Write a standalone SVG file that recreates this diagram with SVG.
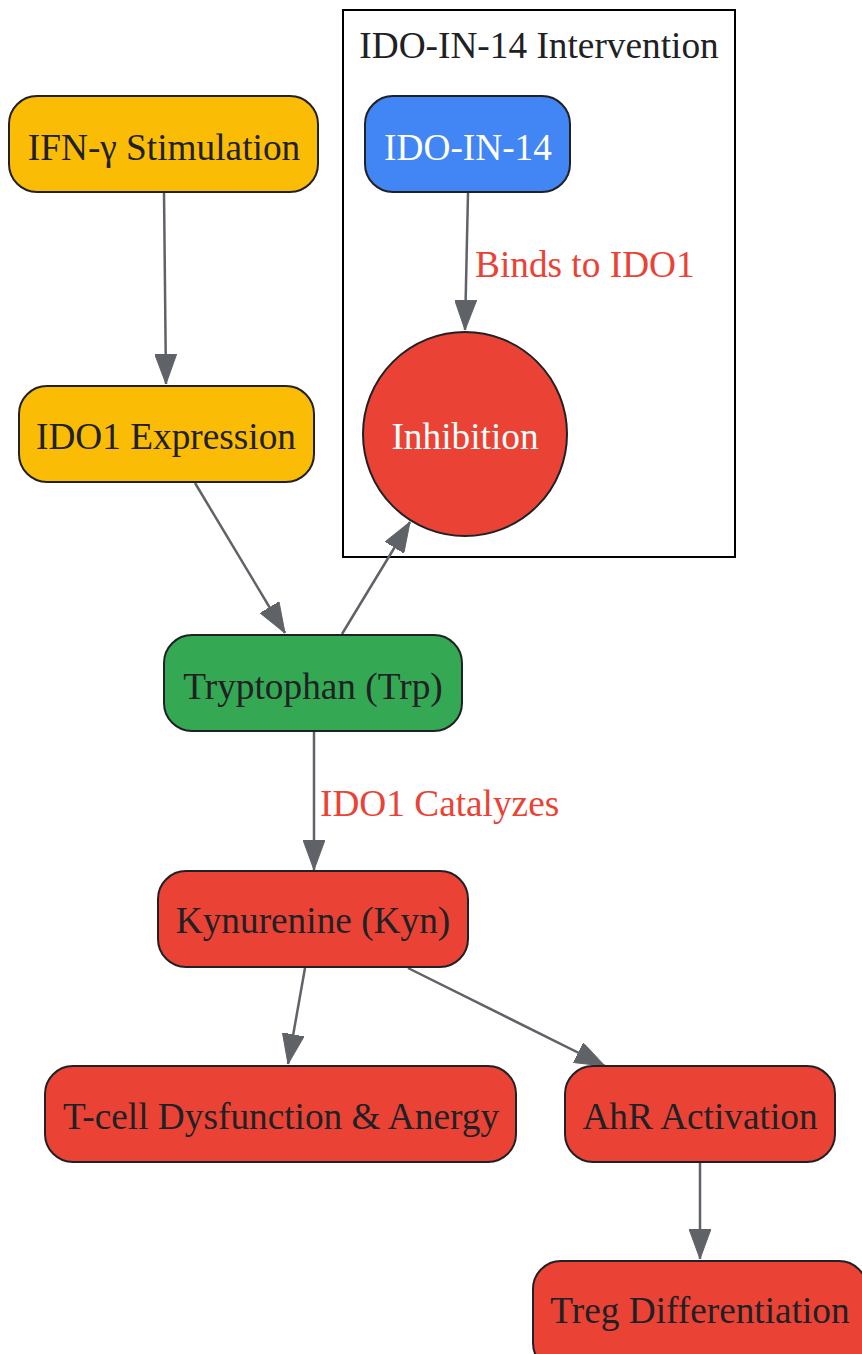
<svg xmlns="http://www.w3.org/2000/svg" width="862" height="1354" viewBox="0 0 862 1354">
<defs>
<marker id="ah" viewBox="0 0 30 22" refX="30" refY="11" markerWidth="30" markerHeight="22" markerUnits="userSpaceOnUse" orient="auto">
<path d="M0,0 L30,11 L0,22 Z" fill="#5F6368" stroke="#5F6368" stroke-width="1"/>
</marker>
<style>
.n{stroke:#202124;stroke-width:2}
.t{font-family:"Liberation Serif",serif;font-size:37.3px;text-anchor:middle;dominant-baseline:central;fill:#202124}
.w{fill:#ffffff}
.e{stroke:#5F6368;stroke-width:2.5;fill:none;marker-end:url(#ah)}
.l{font-family:"Liberation Serif",serif;font-size:37.3px;fill:#EA4335}
</style>
</defs>
<rect width="862" height="1354" fill="#ffffff"/>
<g id="cluster">
<rect x="343" y="10" width="392" height="547" fill="#ffffff" stroke="#000000" stroke-width="2"/>
<text class="t" x="539" y="45">IDO-IN-14 Intervention</text>
</g>
<g id="connectors">
<line class="e" x1="164" y1="192" x2="166" y2="384"/>
<line class="e" x1="195" y1="483" x2="285" y2="633"/>
<line class="e" x1="342" y1="634" x2="410" y2="522"/>
<line class="e" x1="468" y1="193" x2="465" y2="330"/>
<text class="l" x="475" y="277">Binds to IDO1</text>
<line class="e" x1="314" y1="732" x2="314" y2="870"/>
<text class="l" x="320" y="816">IDO1 Catalyzes</text>
<line class="e" x1="305" y1="968" x2="288" y2="1064"/>
<line class="e" x1="408" y1="968" x2="605" y2="1066"/>
<line class="e" x1="700" y1="1163" x2="700" y2="1259"/>
</g>
<g id="ifn">
<rect class="n" x="9" y="96" width="309" height="96" rx="28" fill="#FBBC05"/>
<text class="t" x="164" y="147">IFN-γ Stimulation</text>
</g>
<g id="ido1">
<rect class="n" x="19" y="386" width="295" height="96" rx="28" fill="#FBBC05"/>
<text class="t" x="166" y="436">IDO1 Expression</text>
</g>
<g id="trp">
<rect class="n" x="164" y="635" width="298" height="96" rx="28" fill="#34A853"/>
<text class="t" x="313" y="686">Tryptophan (Trp)</text>
</g>
<g id="kyn">
<rect class="n" x="158" y="871" width="310" height="96" rx="28" fill="#EA4335"/>
<text class="t" x="313" y="920">Kynurenine (Kyn)</text>
</g>
<g id="tcell">
<rect class="n" x="45" y="1066" width="471" height="96" rx="28" fill="#EA4335"/>
<text class="t" x="281" y="1116">T-cell Dysfunction &amp; Anergy</text>
</g>
<g id="ahr">
<rect class="n" x="565" y="1066" width="270" height="96" rx="28" fill="#EA4335"/>
<text class="t" x="700" y="1116">AhR Activation</text>
</g>
<g id="treg">
<rect class="n" x="533" y="1261" width="334" height="110" rx="28" fill="#EA4335"/>
<text class="t" x="700" y="1310">Treg Differentiation</text>
</g>
<g id="idoin14">
<rect class="n" x="365" y="96" width="205" height="96" rx="28" fill="#4285F4"/>
<text class="t w" x="468" y="147">IDO-IN-14</text>
</g>
<g id="inhibition">
<circle class="n" cx="465" cy="434" r="102" fill="#EA4335"/>
<text class="t w" x="465" y="436">Inhibition</text>
</g>
</svg>
